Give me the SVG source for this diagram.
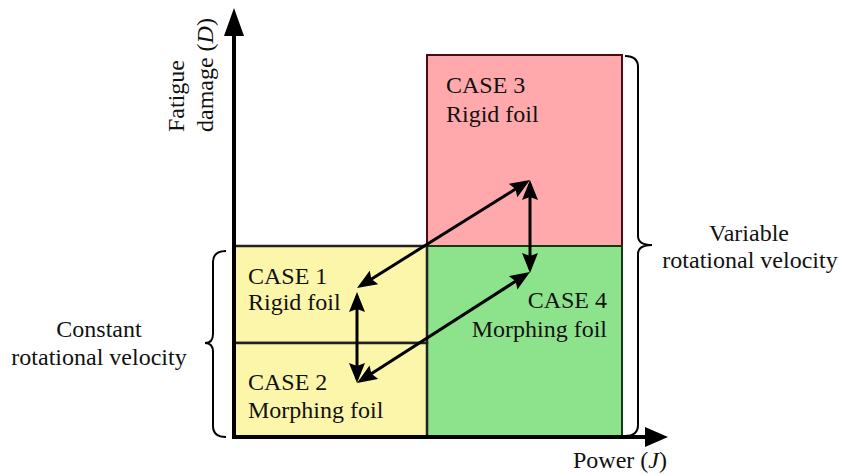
<svg xmlns="http://www.w3.org/2000/svg" width="842" height="474" viewBox="0 0 842 474">
<style>
.t{font-family:'Liberation Serif','DejaVu Serif',serif;font-size:24px;fill:#111}
.conn{stroke:#000;stroke-width:3;fill:none}
.brace{stroke:#000;stroke-width:2;fill:none}
</style>
<defs>
<marker id="ah" viewBox="0 0 20 16" refX="16" refY="8" markerWidth="20" markerHeight="16" markerUnits="userSpaceOnUse" orient="auto-start-reverse">
<path d="M0,0 L20,8 L0,16 L3,8 z" fill="#000"/>
</marker>
</defs>
<rect width="842" height="474" fill="#fff"/>
<g font-family="Liberation Serif, DejaVu Serif, serif" font-size="24">
<g id="case3">
<rect x="427" y="55" width="195" height="191" fill="#ffa9ac" stroke="#4a0c12" stroke-width="2"/>
<text class="t" x="446" y="93">CASE 3</text>
<text class="t" x="446" y="122">Rigid foil</text>
</g>
<g id="case4">
<rect x="427" y="246" width="195" height="191" fill="#8de38c" stroke="#123a12" stroke-width="2"/>
<text class="t" x="607" y="308" text-anchor="end">CASE 4</text>
<text class="t" x="607" y="337" text-anchor="end">Morphing foil</text>
</g>
<g id="case1">
<rect x="234" y="246" width="193" height="97" fill="#fcf6ab" stroke="#222" stroke-width="2.5"/>
<text class="t" x="248" y="284">CASE 1</text>
<text class="t" x="248" y="310">Rigid foil</text>
</g>
<g id="case2">
<rect x="234" y="343" width="193" height="94" fill="#fcf6ab" stroke="#222" stroke-width="2.5"/>
<text class="t" x="248" y="390">CASE 2</text>
<text class="t" x="248" y="418">Morphing foil</text>
</g>
<g id="axes">
<line x1="234" y1="439" x2="234" y2="30" stroke="#000" stroke-width="4"/>
<polygon points="234,8 224,36 244,36" fill="#000"/>
<line x1="232" y1="437" x2="650" y2="437" stroke="#000" stroke-width="4"/>
<polygon points="668,437 645,427 645,447" fill="#000"/>
<text class="t" transform="translate(184,132) rotate(-90)">Fatigue</text>
<text class="t" transform="translate(213,132) rotate(-90)">damage (<tspan font-style="italic">D</tspan>)</text>
<text class="t" x="573" y="468">Power (<tspan font-style="italic">J</tspan>)</text>
</g>
<g id="constant">
<path class="brace" d="M226,251 Q213,251 213,262 L213,334 Q213,343 205,343 Q213,343 213,352 L213,426 Q213,437 226,437"/>
<text class="t" x="99" y="337" text-anchor="middle">Constant</text>
<text class="t" x="99" y="365" text-anchor="middle">rotational velocity</text>
</g>
<g id="variable">
<path class="brace" d="M625,56 Q638,56 638,67 L638,236 Q638,245 652,245 Q638,245 638,254 L638,425 Q638,436 625,436"/>
<text class="t" x="749" y="241" text-anchor="middle">Variable</text>
<text class="t" x="750" y="268" text-anchor="middle">rotational velocity</text>
</g>
</g>
<g id="connectors">
<line class="conn" x1="360.4" y1="285.9" x2="526.6" y2="182.1" marker-start="url(#ah)" marker-end="url(#ah)"/>
<line class="conn" x1="357" y1="296" x2="357" y2="379" marker-start="url(#ah)" marker-end="url(#ah)"/>
<line class="conn" x1="360.4" y1="380.8" x2="526.6" y2="274.2" marker-start="url(#ah)" marker-end="url(#ah)"/>
<line class="conn" x1="530" y1="184" x2="530" y2="269" marker-start="url(#ah)" marker-end="url(#ah)"/>
</g>
</svg>
